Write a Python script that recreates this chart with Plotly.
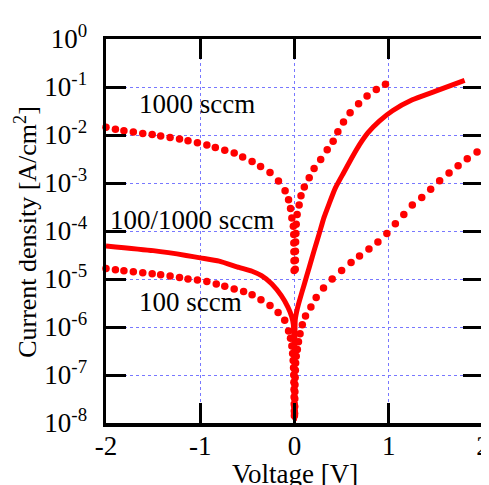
import plotly.graph_objects as go

# ---- data (V in volts, J in A/cm^2) ----
v_1000 = [-2.00, -1.90, -1.81, -1.71, -1.61, -1.51, -1.42, -1.32, -1.22, -1.13,
          -1.03, -0.93, -0.84, -0.74, -0.64, -0.55, -0.45, -0.36, -0.26, -0.17,
          -0.10, -0.063, -0.042, -0.028, -0.012, -0.008, -0.007, -0.006, -0.005, -0.004,
          0.008, 0.009, 0.010, 0.012, 0.015, 0.018, 0.028, 0.049, 0.069, 0.104,
          0.156, 0.208, 0.278, 0.347, 0.41, 0.46, 0.52, 0.59, 0.68, 0.77, 0.868, 0.965]
j_1000 = [1.45e-2, 1.32e-2, 1.23e-2, 1.15e-2, 1.07e-2, 1.02e-2, 9.5e-3, 8.9e-3, 8.3e-3, 7.6e-3,
          6.9e-3, 6.2e-3, 5.5e-3, 4.8e-3, 4.2e-3, 3.5e-3, 2.8e-3, 2.2e-3, 1.66e-3, 1.10e-3,
          6.9e-4, 4.5e-4, 2.95e-4, 1.86e-4, 1.26e-4, 8.5e-5, 5.6e-5, 3.7e-5, 2.4e-5, 1.5e-5,
          1.6e-5, 2.45e-5, 3.8e-5, 5.9e-5, 8.9e-5, 1.38e-4, 2.2e-4, 3.5e-4, 5.4e-4, 8.3e-4,
          1.29e-3, 2.0e-3, 3.1e-3, 4.9e-3, 7.4e-3, 1.17e-2, 1.86e-2, 2.9e-2, 4.5e-2, 6.5e-2, 8.9e-2, 1.14e-1]

v_100 = [-2.00, -1.90, -1.81, -1.71, -1.61, -1.51, -1.42, -1.32, -1.22, -1.13,
         -1.03, -0.93, -0.83, -0.74, -0.64, -0.54, -0.45, -0.356, -0.26, -0.174,
         -0.104, -0.063, -0.042, -0.028, -0.020, -0.014, -0.010, -0.008, -0.006, -0.005,
         -0.004, -0.003, -0.002, -0.001,
         0.001, 0.002, 0.003, 0.004, 0.005, 0.007, 0.009, 0.012, 0.018, 0.030,
         0.042, 0.059, 0.083, 0.117, 0.174, 0.23, 0.308, 0.40, 0.50, 0.60,
         0.69, 0.79, 0.885, 0.98, 1.07, 1.16, 1.25, 1.35, 1.445, 1.54,
         1.64, 1.736, 1.833, 1.937]
j_100 = [1.66e-5, 1.55e-5, 1.48e-5, 1.41e-5, 1.35e-5, 1.29e-5, 1.23e-5, 1.15e-5, 1.07e-5, 1.00e-5,
         9.5e-6, 8.9e-6, 7.9e-6, 7.1e-6, 6.2e-6, 5.5e-6, 4.7e-6, 3.7e-6, 2.8e-6, 2.0e-6,
         1.38e-6, 8.3e-7, 5.8e-7, 4.0e-7, 2.8e-7, 2.0e-7, 1.41e-7, 1.0e-7, 7.1e-8, 5.0e-8,
         3.5e-8, 2.5e-8, 1.78e-8, 1.41e-8,
         1.58e-8, 2.2e-8, 3.2e-8, 4.5e-8, 6.3e-8, 8.9e-8, 1.26e-7, 1.78e-7, 2.45e-7, 3.4e-7,
         4.9e-7, 7.2e-7, 1.12e-6, 1.7e-6, 2.6e-6, 4.1e-6, 6.5e-6, 1.0e-5, 1.51e-5, 2.2e-5,
         3.0e-5, 4.2e-5, 5.9e-5, 8.9e-5, 1.41e-4, 2.2e-4, 3.5e-4, 5.0e-4, 7.4e-4, 1.12e-3,
         1.62e-3, 2.3e-3, 3.2e-3, 4.4e-3]

v_mix = [-2.00, -1.50, -1.15, -1.00, -0.80, -0.59, -0.45, -0.35, -0.24, -0.14,
         -0.07, -0.03, -0.012, -0.004, -0.001, 0.0, 0.001, 0.004, 0.008, 0.03,
         0.052, 0.104, 0.156, 0.208, 0.26, 0.3125, 0.365, 0.434, 0.52, 0.61,
         0.69, 0.78, 0.90, 1.04, 1.25, 1.49, 1.805]
j_mix = [4.9e-5, 3.9e-5, 3.1e-5, 2.75e-5, 2.35e-5, 1.74e-5, 1.45e-5, 1.17e-5, 7.9e-6, 4.5e-6,
         2.6e-6, 1.66e-6, 1.12e-6, 3.2e-7, 4.0e-8, 1.26e-8, 4.0e-8, 3.2e-7, 1.41e-6, 2.4e-6,
         3.5e-6, 7.8e-6, 1.74e-5, 3.9e-5, 8.5e-5, 1.9e-4, 3.6e-4, 7.9e-4, 1.62e-3, 3.4e-3,
         6.3e-3, 1.12e-2, 1.95e-2, 3.2e-2, 5.4e-2, 8.1e-2, 1.38e-1]

x_ticks = [-2, -1, 0, 1, 2]
x_ticktext = ["-2", "-1", "0", "1", "2"]
y_ticks = [1e-8, 1e-7, 1e-6, 1e-5, 1e-4, 1e-3, 1e-2, 1e-1, 1e0]
y_ticktext = ["10<sup>-8</sup>", "10<sup>-7</sup>", "10<sup>-6</sup>", "10<sup>-5</sup>",
              "10<sup>-4</sup>", "10<sup>-3</sup>", "10<sup>-2</sup>", "10<sup>-1</sup>",
              "10<sup>0</sup>"]

labels = ["1000 sccm", "100/1000 sccm", "100 sccm"]
label_x = [-1.03, -1.09, -1.10]
label_y = [-1.36, -3.77, -5.48]   # log10 positions

x_title = "Voltage [V]"
y_title = "Current density [A/cm<sup>2</sup>]"

FONT = "Liberation Serif"
FS = 27
RED = "#ff0000"
XR = [-2, 2]
YR = [-8, 0]

fig = go.Figure()
fig.add_trace(go.Scatter(x=v_mix, y=j_mix, mode="lines",
                         line=dict(color=RED, width=5, shape="spline", smoothing=0.5),
                         cliponaxis=False, showlegend=False))
fig.add_trace(go.Scatter(x=v_1000, y=j_1000, mode="markers",
                         marker=dict(color=RED, size=7.5, line=dict(width=0)),
                         cliponaxis=False, showlegend=False))
fig.add_trace(go.Scatter(x=v_100, y=j_100, mode="markers",
                         marker=dict(color=RED, size=7.5, line=dict(width=0)),
                         cliponaxis=False, showlegend=False))

for t, lx, ly in zip(labels, label_x, label_y):
    fig.add_annotation(x=lx, y=ly, xref="x", yref="y", text=t, showarrow=False,
                       xanchor="center", yanchor="middle",
                       font=dict(family=FONT, size=FS, color="black"))

fig.add_annotation(x=0.5, y=-0.132, xref="paper", yref="paper", text=x_title,
                   showarrow=False, xanchor="center", yanchor="middle",
                   font=dict(family=FONT, size=FS, color="black"))
fig.add_annotation(x=-0.213, y=0.497, xref="paper", yref="paper", text=y_title,
                   showarrow=False, xanchor="center", yanchor="middle", textangle=-90,
                   font=dict(family=FONT, size=26, color="black"))

axis_common = dict(
    showline=True, linecolor="black", linewidth=3.5, mirror="allticks",
    ticks="inside", ticklen=20, tickwidth=3, tickcolor="#000000",
    showgrid=True, gridcolor="#7878ff", gridwidth=1, griddash="dot",
    zeroline=False, layer="above traces",
    tickfont=dict(family=FONT, size=FS, color="black"),
)

fig.update_xaxes(range=XR, tickmode="array", tickvals=x_ticks, ticktext=x_ticktext,
                 ticklabelstandoff=-4, **axis_common)
fig.update_yaxes(type="log", range=YR, tickmode="array", tickvals=y_ticks,
                 ticktext=y_ticktext, ticklabelstandoff=10, **axis_common)

fig.update_layout(
    width=489, height=485,
    margin=dict(l=98, r=7, t=31, b=70),
    paper_bgcolor="white", plot_bgcolor="white",
    font=dict(family=FONT, size=FS, color="black"),
)

fig.write_html("out.html", config={"staticPlot": True, "displayModeBar": False})
